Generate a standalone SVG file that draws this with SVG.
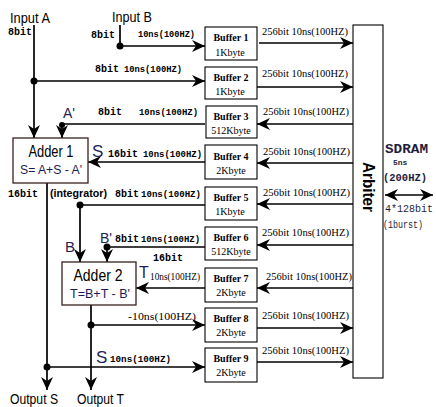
<svg xmlns="http://www.w3.org/2000/svg" width="436" height="407" viewBox="0 0 436 407">
<defs>
<marker id="ah" markerWidth="14" markerHeight="12" refX="13" refY="6" orient="auto-start-reverse" markerUnits="userSpaceOnUse"><path d="M0,0 L13,6 L0,12 L4,6 z" fill="#000"/></marker>
<style>
.ln{stroke:#000;stroke-width:1.7;fill:none}
.la{stroke:#000;stroke-width:1.7;fill:none;marker-end:url(#ah)}
.box{fill:#fff;stroke:#000;stroke-width:1.1}
.abox{fill:#fff;stroke:#3a2020;stroke-width:1.3}
.dot{fill:#000}
.io{font-family:"Liberation Sans",Arial,sans-serif;font-size:15px;fill:#000}
.add{font-family:"Liberation Sans",Arial,sans-serif;font-size:16px;fill:#000;text-anchor:middle}
.fml{font-family:"Liberation Sans",Arial,sans-serif;font-size:12px;fill:#1c1c58;text-anchor:middle}
.nv{font-family:"Liberation Sans",Arial,sans-serif;fill:#23235a}
.m10{font-family:"Liberation Mono","Courier New",monospace;font-weight:bold;font-size:10px;fill:#000}
.m9{font-family:"Liberation Mono","Courier New",monospace;font-weight:bold;font-size:9px;fill:#000}
.ser{font-family:"Liberation Serif","Times New Roman",serif;font-size:10.5px;fill:#000}
.bt{font-family:"Liberation Serif","Times New Roman",serif;font-size:10px;font-weight:bold;text-anchor:middle;fill:#000}
.bs{font-family:"Liberation Serif","Times New Roman",serif;font-size:10px;text-anchor:middle;fill:#000}
</style>
</defs>
<rect width="436" height="407" fill="#fff"/>

<g id="connectors">
  <!-- Input A -->
  <line class="la" x1="34" y1="25" x2="34" y2="138"/>
  <line class="la" x1="34" y1="81" x2="205" y2="81"/>
  <circle class="dot" cx="34" cy="81" r="3.5"/>
  <!-- Input B -->
  <polyline class="la" points="120,25 120,46 205,46"/>
  <circle class="dot" cx="120" cy="46" r="3.5"/>
  <!-- A' from buffer 3 -->
  <polyline class="la" points="205,124 62,124 62,138"/>
  <circle class="dot" cx="62" cy="125" r="3"/>
  <!-- S from buffer 4 -->
  <line class="la" x1="205" y1="162" x2="88" y2="162"/>
  <!-- Adder1 out -->
  <line class="la" x1="47" y1="183" x2="47" y2="390"/>
  <line class="la" x1="47" y1="367" x2="205" y2="367"/>
  <circle class="dot" cx="47" cy="367" r="3.5"/>
  <!-- B from buffer 5 -->
  <polyline class="la" points="205,205 80,205 80,262"/>
  <circle class="dot" cx="80" cy="205" r="3.5"/>
  <!-- B' from buffer 6 -->
  <polyline class="la" points="205,247 107,247 107,262"/>
  <circle class="dot" cx="107" cy="247" r="3.5"/>
  <!-- T from buffer 7 -->
  <line class="la" x1="205" y1="288" x2="136" y2="288"/>
  <!-- Adder2 out -->
  <line class="la" x1="91" y1="305" x2="91" y2="390"/>
  <line class="la" x1="91" y1="325" x2="205" y2="325"/>
  <circle class="dot" cx="91" cy="325" r="3.5"/>
  <!-- buffers to/from arbiter -->
  <line class="la" x1="259" y1="43" x2="353" y2="43"/>
  <line class="la" x1="257" y1="87" x2="353" y2="87"/>
  <line class="la" x1="353" y1="124" x2="257" y2="124"/>
  <line class="la" x1="353" y1="163" x2="257" y2="163"/>
  <line class="la" x1="353" y1="204" x2="257" y2="204"/>
  <line class="la" x1="353" y1="245" x2="257" y2="245"/>
  <line class="la" x1="353" y1="288" x2="257" y2="288"/>
  <line class="la" x1="257" y1="328" x2="353" y2="328"/>
  <line class="la" x1="257" y1="362" x2="353" y2="362"/>
  <!-- SDRAM bus -->
  <line class="la" x1="385" y1="195" x2="433" y2="195" marker-start="url(#ah)"/>

  <!-- connector labels -->
  <text class="m10" x="8" y="35">8bit</text>
  <text class="m10" x="91" y="38">8bit</text>
  <text class="m9" x="138" y="37" textLength="57" lengthAdjust="spacingAndGlyphs">10ns(100HZ)</text>
  <text class="m10" x="95" y="72">8bit</text>
  <text class="m9" x="124" y="72" textLength="58" lengthAdjust="spacingAndGlyphs">10ns(100HZ)</text>
  <text class="nv" x="63" y="118" font-size="14">A'</text>
  <text class="m10" x="98" y="115">8bit</text>
  <text class="m9" x="139" y="115" textLength="59" lengthAdjust="spacingAndGlyphs">10ns(100HZ)</text>
  <text class="nv" x="92" y="157" font-size="17">S</text>
  <text class="m10" x="108" y="157">16bit</text>
  <text class="m9" x="143" y="157" textLength="59" lengthAdjust="spacingAndGlyphs">10ns(100HZ)</text>
  <text class="m10" x="8" y="197">16bit</text>
  <text x="50" y="197" font-family="Liberation Sans,Arial,sans-serif" font-weight="bold" font-size="10" textLength="57" lengthAdjust="spacingAndGlyphs">(integrator)</text>
  <text class="m10" x="115" y="197">8bit</text>
  <text class="m9" x="141" y="197" textLength="60" lengthAdjust="spacingAndGlyphs">10ns(100HZ)</text>
  <text class="nv" x="65" y="252" font-size="15">B</text>
  <text class="nv" x="100" y="243" font-size="14">B'</text>
  <text class="m10" x="115" y="242">8bit</text>
  <text class="m9" x="141" y="242" textLength="59" lengthAdjust="spacingAndGlyphs">10ns(100HZ)</text>
  <text class="m10" x="153" y="261">16bit</text>
  <text class="nv" x="139" y="278" font-size="16">T</text>
  <text class="ser" x="150" y="280" font-size="8.5" textLength="50" lengthAdjust="spacingAndGlyphs">10ns(100HZ)</text>
  <text class="ser" x="128" y="320" textLength="68" lengthAdjust="spacingAndGlyphs">-10ns(100HZ)</text>
  <text class="nv" x="96" y="363" font-size="17">S</text>
  <text class="m9" x="110" y="362" textLength="61" lengthAdjust="spacingAndGlyphs">10ns(100HZ)</text>

  <text class="ser" x="262" y="35" textLength="86" lengthAdjust="spacingAndGlyphs">256bit 10ns(100HZ)</text>
  <text class="ser" x="262" y="77" textLength="86" lengthAdjust="spacingAndGlyphs">256bit 10ns(100HZ)</text>
  <text class="ser" x="263" y="115" textLength="86" lengthAdjust="spacingAndGlyphs">256bit 10ns(100HZ)</text>
  <text class="ser" x="263" y="155" textLength="87" lengthAdjust="spacingAndGlyphs">256bit 10ns(100HZ)</text>
  <text class="ser" x="263" y="196" textLength="87" lengthAdjust="spacingAndGlyphs">256bit 10ns(100HZ)</text>
  <text class="ser" x="262" y="236" textLength="87" lengthAdjust="spacingAndGlyphs">256bit 10ns(100HZ)</text>
  <text class="ser" x="266" y="280" textLength="86" lengthAdjust="spacingAndGlyphs">256bit 10ns(100HZ)</text>
  <text class="ser" x="262" y="319" textLength="87" lengthAdjust="spacingAndGlyphs">256bit 10ns(100HZ)</text>
  <text class="ser" x="262" y="354" textLength="87" lengthAdjust="spacingAndGlyphs">256bit 10ns(100HZ)</text>
</g>

<g id="inputA"><text class="io" x="10" y="23" textLength="40" lengthAdjust="spacingAndGlyphs">Input A</text></g>
<g id="inputB"><text class="io" x="112" y="22" textLength="40" lengthAdjust="spacingAndGlyphs">Input B</text></g>
<g id="outputS"><text class="io" x="10" y="404" textLength="48" lengthAdjust="spacingAndGlyphs">Output S</text></g>
<g id="outputT"><text class="io" x="77" y="404" textLength="47" lengthAdjust="spacingAndGlyphs">Output T</text></g>

<g id="adder1">
  <rect class="abox" x="13" y="138" width="75" height="45"/>
  <text class="add" x="51" y="157" textLength="45" lengthAdjust="spacingAndGlyphs">Adder 1</text>
  <text class="fml" x="51" y="174" textLength="62" lengthAdjust="spacingAndGlyphs">S= A+S - A'</text>
</g>
<g id="adder2">
  <rect class="abox" x="62" y="262" width="74" height="43"/>
  <text class="add" x="98" y="281" textLength="49" lengthAdjust="spacingAndGlyphs">Adder 2</text>
  <text class="fml" x="100" y="298" textLength="60" lengthAdjust="spacingAndGlyphs">T=B+T - B'</text>
</g>

<g id="buffer1"><rect class="box" x="205" y="27" width="52" height="33"/><text class="bt" x="231" y="41">Buffer 1</text><text class="bs" x="230" y="56">1Kbyte</text></g>
<g id="buffer2"><rect class="box" x="205" y="67" width="52" height="32"/><text class="bt" x="231" y="81">Buffer 2</text><text class="bs" x="230" y="95">1Kbyte</text></g>
<g id="buffer3"><rect class="box" x="206" y="106" width="51" height="32"/><text class="bt" x="231" y="120">Buffer 3</text><text class="bs" x="231" y="134">512Kbyte</text></g>
<g id="buffer4"><rect class="box" x="205" y="145" width="52" height="34"/><text class="bt" x="231" y="160">Buffer 4</text><text class="bs" x="231" y="174">2Kbyte</text></g>
<g id="buffer5"><rect class="box" x="205" y="187" width="52" height="33"/><text class="bt" x="231" y="201">Buffer 5</text><text class="bs" x="230" y="215">1Kbyte</text></g>
<g id="buffer6"><rect class="box" x="205" y="227" width="52" height="33"/><text class="bt" x="231" y="241">Buffer 6</text><text class="bs" x="231" y="255">512Kbyte</text></g>
<g id="buffer7"><rect class="box" x="205" y="268" width="52" height="34"/><text class="bt" x="231" y="282">Buffer 7</text><text class="bs" x="231" y="296">2Kbyte</text></g>
<g id="buffer8"><rect class="box" x="205" y="308" width="52" height="34"/><text class="bt" x="231" y="322">Buffer 8</text><text class="bs" x="231" y="336">2Kbyte</text></g>
<g id="buffer9"><rect class="box" x="205" y="348" width="52" height="34"/><text class="bt" x="231" y="362">Buffer 9</text><text class="bs" x="231" y="376">2Kbyte</text></g>

<g id="arbiter">
  <rect class="box" x="353" y="25" width="30" height="353"/>
  <text x="363" y="187" transform="rotate(90 363 187)" font-family="Liberation Sans,Arial,sans-serif" font-weight="bold" font-size="17" text-anchor="middle" textLength="50" lengthAdjust="spacingAndGlyphs">Arbiter</text>
</g>

<g id="sdram" fill="#1e1e3c">
  <text x="385" y="153" font-family="Liberation Mono,monospace" font-weight="bold" font-size="12" textLength="43" lengthAdjust="spacingAndGlyphs">SDRAM</text>
  <text x="393" y="165" font-family="Liberation Mono,monospace" font-weight="bold" font-size="8">5ns</text>
  <text x="383" y="181" font-family="Liberation Mono,monospace" font-weight="bold" font-size="11" textLength="44" lengthAdjust="spacingAndGlyphs">(200HZ)</text>
  <text x="385" y="212" font-family="Liberation Mono,monospace" font-size="10" textLength="48" lengthAdjust="spacingAndGlyphs">4*128bit</text>
  <text x="383" y="228" font-family="Liberation Mono,monospace" font-size="10" textLength="40" lengthAdjust="spacingAndGlyphs">(1burst)</text>
</g>
</svg>
